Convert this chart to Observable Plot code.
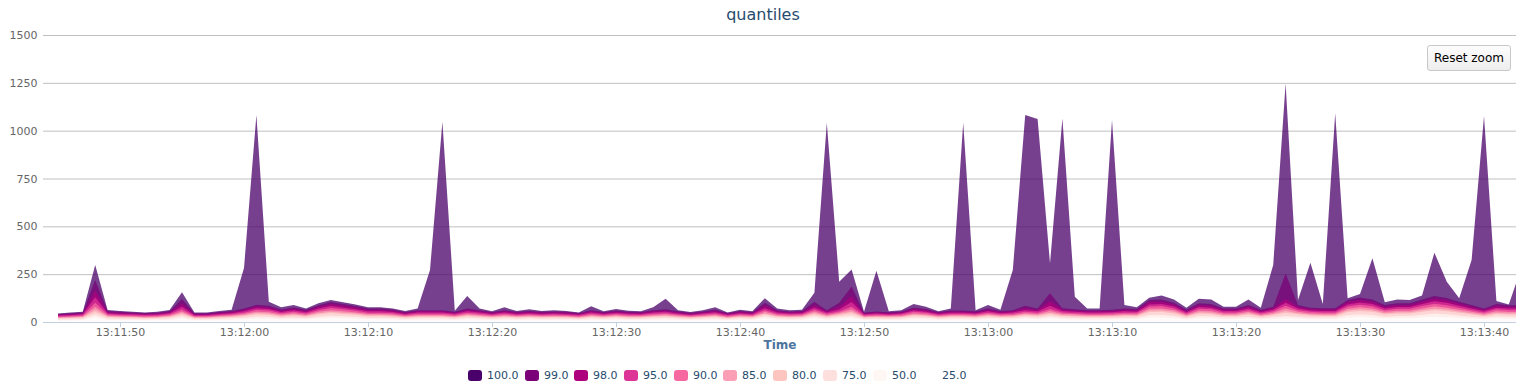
<!DOCTYPE html>
<html>
<head>
<meta charset="utf-8">
<script src="https://cdn.jsdelivr.net/npm/d3@7"></script>
<script src="https://cdn.jsdelivr.net/npm/@observablehq/plot@0.6"></script>
<style>
  html, body { margin: 0; padding: 0; background: #fff; }
  body { font-family: "DejaVu Sans", Verdana, sans-serif; width: 1526px; height: 384px; overflow: hidden; position: relative; }
  #title { position: absolute; left: 0; top: 0; width: 1526px; height: 30px; line-height: 30px; text-align: center; font-size: 16px; color: #274b6d; }
  #chart { position: absolute; left: 0; top: 30px; }
  #reset { position: absolute; left: 1427px; top: 45px; width: 82px; height: 24px; line-height: 24px; border: 1px solid #c8c8c8; border-radius: 3px; background: linear-gradient(#fdfdfd, #eeeeee); font-size: 12px; color: #000; text-align: center; }
  .item { position: absolute; top: 369px; height: 14px; font-size: 11px; color: #274b6d; white-space: nowrap; }
  .sw { position: absolute; left: 0; top: 1px; width: 14px; height: 11px; border-radius: 3px; }
  .lbl { position: absolute; left: 19px; top: 0; line-height: 14px; }
</style>
</head>
<body>
<div id="title">quantiles</div>
<div id="chart"></div>
<div id="reset">Reset zoom</div>
<div id="legend"></div>
<script>
// ---- data (one sample per second, starting 13:11:45) ----
const startTime = "13:11:45";
const quantileNames = ["100.0", "99.0", "98.0", "95.0", "90.0", "85.0", "80.0", "75.0", "50.0", "25.0"];
const quantileColors = ["#49006a", "#7a0177", "#ae017e", "#dd3497", "#f768a1", "#fa9fb5", "#fcc5c0", "#fde0dd", "#fff7f3", "#ffffff"];
const yTicks = [0, 250, 500, 750, 1000, 1250, 1500];
const xTickLabels = ["13:11:50", "13:12:00", "13:12:10", "13:12:20", "13:12:30", "13:12:40", "13:12:50", "13:13:00", "13:13:10", "13:13:20", "13:13:30", "13:13:40"];
const xDomain = ["13:11:43.79", "13:13:42.58"];

const q100 = [45,50,54,298,63,57,54,50,53,63, 155,50,50,57,64,282,1082,106,77,89, 71,98,115,103,92,77,77,71,57,71, 272,1047,59,136,71,56,77,57,66,57, 61,57,50,82,56,68,59,56,77,122, 61,52,61,77,50,64,56,124,70,61, 64,153,1042,211,275,54,268,56,61,94, 80,56,70,1042,61,89,64,272,1082,1061, 307,1064,132,70,70,1056,89,77,127,139, 118,75,122,118,80,80,118,75,298,1247, 115,310,94,1091,124,146,333,103,118,115, 138,362,211,124,324,1077,110,92,280];
const q99 = [42,46,50,220,57,53,50,47,49,57, 120,46,46,52,58,70,90,85,65,76, 64,88,104,94,84,70,70,65,52,62, 62,62,54,70,62,52,62,53,58,53, 55,53,47,62,52,60,54,52,62,66, 56,48,55,64,47,58,52,100,62,55, 58,106,62,100,185,50,55,51,55,75, 68,52,60,60,56,70,58,62,85,70, 150,72,66,62,62,64,70,68,115,118, 101,64,98,94,71,71,89,64,80,254, 89,75,72,72,115,128,117,89,98,98, 118,136,125,106,89,71,94,87,88];
const q98 = [38,41,45,165,51,48,45,42,44,51, 95,41,41,47,52,63,81,77,59,68, 58,79,94,85,76,63,63,59,47,56, 56,56,49,63,56,47,56,48,52,48, 50,48,42,56,47,54,49,47,56,59, 50,43,50,58,42,52,47,85,56,50, 52,88,56,80,135,45,50,46,50,68, 61,47,54,54,50,63,52,56,72,63, 110,65,59,56,56,58,63,61,104,106, 91,58,88,85,64,64,80,58,72,120, 80,68,65,65,104,115,105,80,88,88, 106,122,113,95,80,64,85,78,79];
const q95 = [34,37,40,130,46,42,40,38,39,46, 80,37,37,42,46,56,72,68,52,61, 51,70,83,75,67,56,56,52,42,50, 50,50,43,56,50,42,50,42,46,42, 44,42,38,50,42,48,43,42,50,53, 45,38,44,51,38,46,42,72,50,44, 46,75,50,65,105,40,44,41,44,60, 54,42,48,48,45,56,46,50,62,56, 85,58,53,50,50,51,56,54,92,94, 81,51,78,75,57,57,71,51,64,100, 71,60,58,58,92,102,94,71,78,78, 94,109,100,85,71,57,75,70,70];
const q90 = [29,32,35,100,40,37,35,33,34,40, 65,32,32,36,41,49,63,60,46,53, 45,62,73,66,59,49,49,46,36,43, 43,43,38,49,43,36,43,37,41,37, 39,37,33,43,36,42,38,36,43,46, 39,34,39,45,33,41,36,62,43,39, 41,64,43,55,80,35,39,36,39,53, 48,36,42,42,39,49,41,43,54,49, 68,50,46,43,43,45,49,48,81,83, 71,45,69,66,50,50,62,45,56,85, 62,53,50,50,81,90,82,62,69,69, 83,95,88,74,62,50,66,61,62];
const q85 = [25,28,30,80,34,32,30,28,29,34, 55,28,28,31,35,42,54,51,39,46, 38,53,62,56,50,42,42,39,31,37, 37,37,32,42,37,31,37,32,35,32, 33,32,28,37,31,36,32,31,37,40, 34,29,33,38,28,35,31,53,37,33, 35,55,37,48,65,30,33,31,33,45, 41,31,36,36,34,42,35,37,46,42, 57,43,40,37,37,38,42,41,69,71, 61,38,59,56,43,43,53,38,48,70, 53,45,43,43,69,77,70,53,59,59, 71,82,75,64,53,43,56,52,53];
const q80 = [22,24,26,65,30,28,26,24,25,30, 47,24,24,27,30,36,47,44,34,40, 33,46,54,49,44,36,36,34,27,32, 32,32,28,36,32,27,32,28,30,28, 29,28,24,32,27,31,28,27,32,34, 29,25,29,33,24,30,27,45,32,29, 30,47,32,42,55,26,29,27,29,39, 35,27,31,31,29,36,30,32,40,36, 48,37,34,32,32,33,36,35,60,61, 53,33,51,49,37,37,46,33,42,58, 46,39,37,37,60,67,61,46,51,51, 61,71,65,55,46,37,49,45,46];
const q75 = [19,21,23,52,26,24,23,21,22,26, 40,21,21,23,26,32,41,38,29,34, 29,40,47,42,38,32,32,29,23,28, 28,28,24,32,28,23,28,24,26,24, 25,24,21,28,23,27,24,23,28,30, 25,22,25,29,21,26,23,40,28,25, 26,40,28,36,46,23,25,23,25,34, 31,23,27,27,25,32,26,28,35,32, 42,32,30,28,28,29,32,31,52,53, 45,29,44,42,32,32,40,29,36,48, 40,34,32,32,52,58,53,40,44,44, 53,61,56,48,40,32,42,39,40];
const q50 = [13,15,16,38,18,17,16,15,16,18, 30,15,15,17,19,22,29,27,21,24, 20,28,33,30,27,22,22,21,17,20, 20,20,17,22,20,17,20,17,19,17, 18,17,15,20,17,19,17,17,20,21, 18,15,18,20,15,19,17,30,20,18, 19,30,20,27,33,16,18,16,18,24, 22,17,19,19,18,22,19,20,26,22, 30,23,21,20,20,20,22,22,37,38, 32,20,31,30,23,23,28,20,26,32, 28,24,23,23,37,41,37,28,31,31, 38,44,40,34,28,23,30,28,28];
const q25 = [8,9,10,25,11,11,10,9,10,11, 20,9,9,10,12,14,18,17,13,15, 13,18,21,19,17,14,14,13,10,12, 12,12,11,14,12,10,12,11,12,11, 11,11,9,12,10,12,11,10,12,13, 11,10,11,13,9,12,10,20,12,11, 12,20,12,18,22,10,11,10,11,15, 14,10,12,12,11,14,12,12,17,14, 20,14,13,12,12,13,14,14,23,24, 20,13,20,19,14,14,18,13,16,20, 18,15,14,14,23,26,23,18,20,20, 24,27,25,21,18,14,19,17,18];

// ---- build ----
const seriesValues = [q100, q99, q98, q95, q90, q85, q80, q75, q50, q25];
const parseT = (s) => {
  const [h, m, sec] = s.split(":");
  return new Date(Date.UTC(2014, 0, 1, +h, +m, 0) + Math.round(parseFloat(sec) * 1000));
};
const t0 = parseT(startTime);
const times = q100.map((_, i) => new Date(+t0 + i * 1000));
const xTicks = xTickLabels.map(parseT);
const fmt = d3.utcFormat("%H:%M:%S");

const areaMarks = seriesValues.map((vals, k) =>
  Plot.areaY(vals.map((v, i) => ({t: times[i], v})), {
    x: "t", y: "v", fill: quantileColors[k], fillOpacity: 0.75, clip: true
  })
);

const chart = Plot.plot({
  width: 1526,
  height: 330,
  marginTop: 5,
  marginLeft: 43,
  marginRight: 10,
  marginBottom: 38,
  style: {fontFamily: "DejaVu Sans, Verdana, sans-serif", fontSize: "11px", background: "#fff", color: "#666"},
  x: {type: "utc", domain: xDomain.map(parseT)},
  y: {domain: [0, 1500]},
  marks: [
    Plot.gridY(yTicks, {stroke: "#c0c0c0", strokeOpacity: 1}),
    ...areaMarks,
    Plot.ruleY([0], {stroke: "#c0d0e0"}),
    Plot.axisY(yTicks, {tickSize: 0, tickPadding: 6, label: null, fill: "#666", tickFormat: (d) => String(d)}),
    Plot.axisX(xTicks, {tickFormat: fmt, tickSize: 5, tickPadding: 1, stroke: "#c0d0e0", fill: "#666", label: null}),
    Plot.text(["Time"], {frameAnchor: "bottom", dy: 26, fontWeight: "bold", fontSize: 12, fill: "#4d759e"})
  ]
});
document.getElementById("chart").appendChild(chart);

// legend
const legendLefts = [468, 525, 574, 624, 674, 723, 773, 823, 873, 923];
const legend = document.getElementById("legend");
quantileNames.forEach((name, k) => {
  const it = document.createElement("div");
  it.className = "item";
  it.style.left = legendLefts[k] + "px";
  const sw = document.createElement("div");
  sw.className = "sw";
  sw.style.background = quantileColors[k];
  const lb = document.createElement("div");
  lb.className = "lbl";
  lb.textContent = name;
  it.appendChild(sw);
  it.appendChild(lb);
  legend.appendChild(it);
});
</script>
</body>
</html>
